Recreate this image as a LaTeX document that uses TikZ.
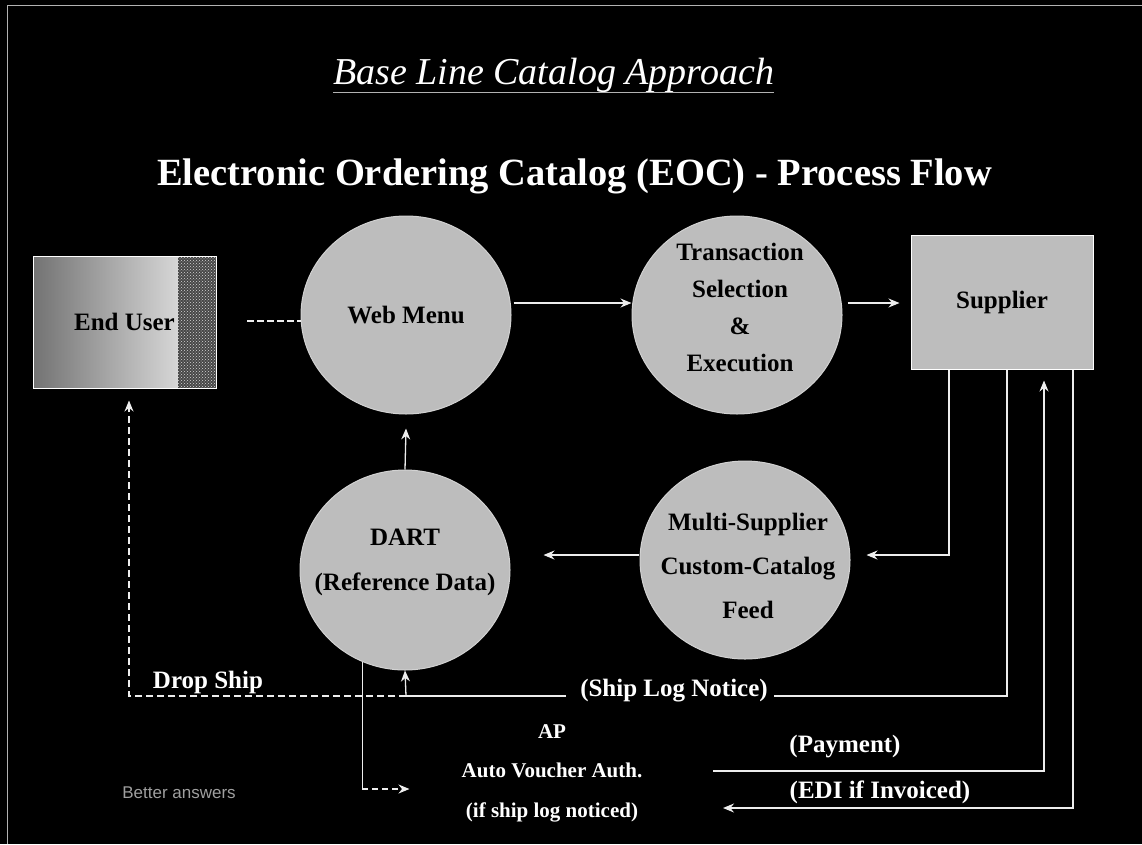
\documentclass[tikz,border=0pt]{standalone}
\usepackage{fontspec}
\setmainfont{Liberation Serif}
\newfontfamily\sansfnt{Liberation Sans}
\usetikzlibrary{shapes.geometric,arrows.meta,patterns}
\definecolor{bubblegray}{gray}{0.74}
\definecolor{linewhite}{gray}{0.93}
\definecolor{eudark}{gray}{0.45}
\definecolor{eulight}{gray}{0.84}
\definecolor{eustrip}{gray}{0.28}
\definecolor{framegray}{gray}{0.7}
\begin{document}
\begin{tikzpicture}[x=1pt,y=-1pt,
  bubble/.style={ellipse, minimum width=210pt, minimum height=198pt, inner sep=0pt,
    fill=bubblegray, draw=gray!35, line width=1pt},
  btext/.style={text=black, align=center, inner sep=0pt,
    font=\fontsize{25}{37}\selectfont\bfseries},
  boxnode/.style={rectangle, draw=white, line width=1pt, text=black,
    font=\fontsize{25}{30}\selectfont\bfseries},
  conn/.style={draw=linewhite, line width=1.3pt},
  arr/.style={conn, -{Stealth[length=11pt,width=9pt]}},
  lbl/.style={text=white, inner sep=0pt, font=\fontsize{25}{30}\selectfont\bfseries},
  aplbl/.style={text=white, inner sep=0pt, align=center, font=\fontsize{21}{39.5}\selectfont\bfseries},
]
\useasboundingbox (0,0) rectangle (1142,844);
\fill[black] (0,0) rectangle (1142,844);
\draw[framegray, line width=1pt] (7,844) -- (7,5) -- (1142,5);

% titles
\node[anchor=base west, inner sep=0pt, text=white, font=\fontsize{38}{42}\selectfont\itshape] (title) at (333,84) {Base Line Catalog Approach};
\draw[framegray, line width=1pt] ([yshift=-8pt]title.base west) -- ([yshift=-8pt]title.base east);
\node[anchor=base west, inner sep=0pt, text=white, font=\fontsize{38.5}{42}\selectfont\bfseries] (subtitle) at (157,185) {Electronic Ordering Catalog (EOC) - Process Flow};

% End User box
\shade[left color=eudark, right color=eulight] (33,256) rectangle (178,388);
\fill[eustrip] (178,256) rectangle (216,388);
\fill[pattern=crosshatch dots, pattern color=eulight] (178,256) rectangle (216,388);
\node[boxnode, minimum width=183pt, minimum height=132pt] (eu) at (124.5,322) {End User};

% Supplier box
\node[boxnode, fill=bubblegray, minimum width=182pt, minimum height=134pt] (sup) at (1002,302) {Supplier};

% bubbles
\node[bubble, label={[btext]center:{Web Menu}}] (web) at (406,315) {};
\node[bubble, label={[btext, xshift=3pt, yshift=8pt]center:{Transaction\\Selection\\\&\\Execution}}] (trans) at (737,315) {};
\node[bubble, minimum height=200pt, label={[btext, yshift=8pt, font=\fontsize{25}{45}\selectfont\bfseries]center:{DART\\(Reference Data)}}] (dart) at (405,570) {};
\node[bubble, label={[btext, xshift=3pt, yshift=-6pt, font=\fontsize{25}{44}\selectfont\bfseries]center:{Multi-Supplier\\Custom-Catalog\\Feed}}] (multi) at (745,560) {};

% labels
\node[lbl, anchor=base, inner xsep=4pt] (ship) at (674,696) {(Ship Log Notice)};
\node[lbl] (drop) at (208,682) {Drop Ship};
\node[aplbl] (ap) at (552,773) {AP\\Auto Voucher Auth.\\(if ship log noticed)};
\node[lbl] (pay) at (845,747) {(Payment)};
\node[lbl] (edi) at (880,792) {(EDI if Invoiced)};
\node[text=gray!75, inner sep=0pt, font=\sansfnt\fontsize{17}{20}\selectfont] (better) at (179,793) {Better answers};

% helper coordinates
\coordinate (euout) at (247,321);
\coordinate (c949) at (949,0);
\coordinate (c1007) at (1007,0);
\coordinate (c1044) at (1044,0);
\coordinate (c1073) at (1073,0);
\coordinate (c406) at (406,696);
\coordinate (apy) at (0,789);
\coordinate (paystart) at (713,771);
\coordinate (ediend) at (723,808);

% connectors
\draw[conn, dash pattern=on 7pt off 3pt] (euout) -- (web.west |- euout);
\draw[arr] ([shift={(2,-12)}]web.east) -- ([shift={(0,-12)}]trans.west);
\draw[arr] ([shift={(5,-12)}]trans.east) -- ([shift={(-11,1)}]sup.west);
\draw[arr] (dart.north) -- ([shift={(0,14)}]web.south);
\draw[arr] ([shift={(-1,-5)}]multi.west) -- ([shift={(33,-15)}]dart.east);
\draw[arr] (sup.south -| c949) |- ([shift={(16,-5)}]multi.east);

\draw[conn] (sup.south -| c1007) |- ([xshift=2pt]ship.base east);
\draw[conn] ([xshift=-10pt]ship.base west) -- (c406);
\draw[conn, dash pattern=on 7pt off 4pt, -{Stealth[length=11pt,width=9pt]}] (c406) -| ([shift={(4.5,12)}]eu.south);
\draw[arr] (c406) -- (dart.south);

\draw[conn] (dart.245) -- (dart.245 |- apy);
\draw[conn, dash pattern=on 6pt off 4pt, -{Stealth[length=11pt,width=9pt]}] (dart.245 |- apy) -- ([shift={(-52,16)}]ap.west);

\draw[arr, shorten >=11pt] (paystart) -| (sup.south -| c1044);
\draw[arr] (sup.south -| c1073) |- (ediend);
\end{tikzpicture}
\end{document}
